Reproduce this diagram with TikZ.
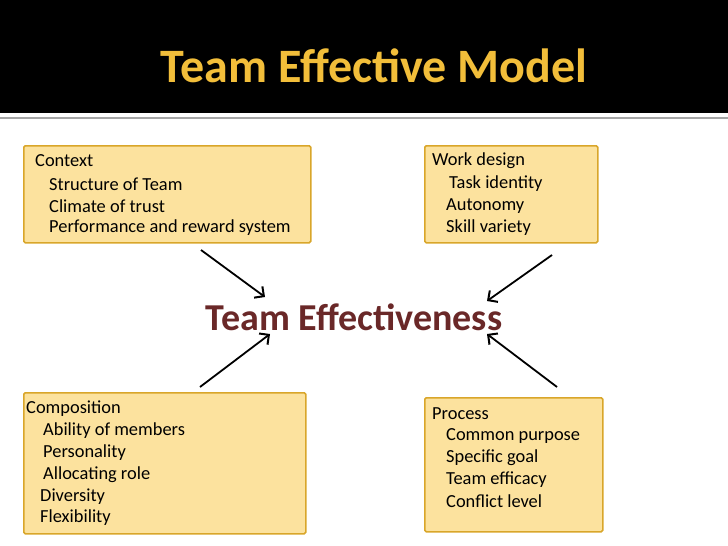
\documentclass[tikz,border=0pt]{standalone}
\usepackage{fontspec}
\setmainfont{Carlito}
\usetikzlibrary{arrows.meta}
\begin{document}
\begin{tikzpicture}[x=1pt,y=-1pt,
  boxst/.style={draw=boxline,fill=boxfill,line width=1.6pt,rounded corners=1.5pt,anchor=north west,inner sep=0pt},
  ln/.style={anchor=west,inner sep=0pt,font=\fontsize{18.4}{20}\selectfont},
  arr/.style={-{Straight Barb[length=7pt,width=14pt,line width=2pt]},line width=1.8pt}]
\definecolor{boxfill}{HTML}{FCE29E}
\definecolor{boxline}{HTML}{D9A62A}
\definecolor{titlec}{HTML}{F2BE3A}
\definecolor{maroon}{HTML}{6A2828}
\useasboundingbox (0,0) rectangle (728,546);
\fill[white] (0,0) rectangle (728,546);
\fill[black] (0,0) rectangle (728,113);
\draw[gray!70,line width=1.2pt] (0,118) -- (728,118);
\node[text=titlec,font=\fontsize{48}{52}\bfseries\selectfont] (title) at (374,66) {Team Effective Model};
% boxes
\node[boxst,minimum width=287pt,minimum height=97pt] (b1) at (23,145) {};
\node[boxst,minimum width=173pt,minimum height=97pt] (b2) at (424,145) {};
\node[boxst,minimum width=282pt,minimum height=141pt] (b3) at (23,392) {};
\node[boxst,minimum width=178pt,minimum height=134pt] (b4) at (424,397) {};
\node[ln] (t11) at (35,161) {Context};
\node[ln] (t12) at (49,184) {Structure of Team};
\node[ln] (t13) at (49,206) {Climate of trust};
\node[ln] (t14) at (49,228) {Performance and reward system};
\node[ln] (t21) at (432,161) {Work design};
\node[ln] (t22) at (449,184) {Task identity};
\node[ln] (t23) at (446,206) {Autonomy};
\node[ln] (t24) at (446,228) {Skill variety};
\node[ln] (t31) at (26,409) {Composition};
\node[ln] (t32) at (43,431) {Ability of members};
\node[ln] (t33) at (43,453) {Personality};
\node[ln] (t34) at (43,475) {Allocating role};
\node[ln] (t35) at (40,497) {Diversity};
\node[ln] (t36) at (40,518) {Flexibility};
\node[ln] (t41) at (432,414) {Process};
\node[ln] (t42) at (446,436) {Common purpose};
\node[ln] (t43) at (446,458) {Specific goal};
\node[ln] (t44) at (446,480) {Team efficacy};
\node[ln] (t45) at (446,501) {Conflict level};
\node[text=maroon,font=\fontsize{38}{42}\bfseries\selectfont] (te) at (354,317) {Team Effectiveness};
\coordinate (a1) at (201,250);
\coordinate (a2) at (552,255);
\coordinate (a3) at (200,387);
\coordinate (a4) at (557,387);
\draw[arr] (a1) -- (265,297);
\draw[arr] (a2) -- (487,301);
\draw[arr] (a3) -- (270,334);
\draw[arr] (a4) -- (487,334);
\end{tikzpicture}
\end{document}
